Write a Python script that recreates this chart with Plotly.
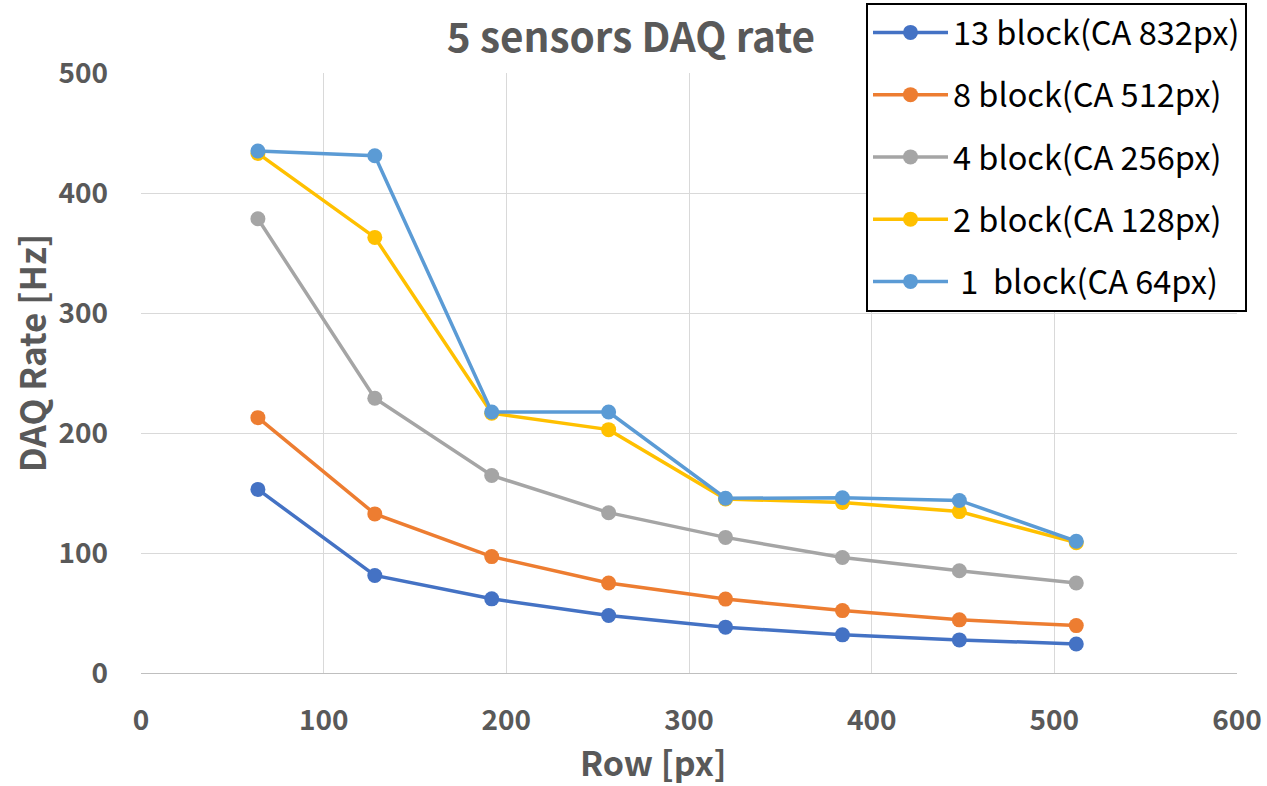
import plotly.graph_objects as go

rows = [64, 128, 192, 256, 320, 384, 448, 512]
series_names = ["13 block(CA 832px)", "8 block(CA 512px)", "4 block(CA 256px)",
                "2 block(CA 128px)", " 1  block(CA 64px)"]
rate_13 = [153, 81.3, 61.8, 47.9, 38.2, 31.8, 27.6, 24.2]
rate_8 = [212.8, 132.6, 97, 75, 61.6, 52, 44.3, 39.5]
rate_4 = [378.5, 229, 164.6, 133.6, 113, 96.3, 85.2, 75]
rate_2 = [433, 363, 216.5, 202.8, 145, 142, 134.5, 108.6]
rate_1 = [435, 431, 217.5, 217.5, 145.6, 146, 143.8, 109.8]
colors = ["#4472C4", "#ED7D31", "#A5A5A5", "#FFC000", "#5B9BD5"]
x_title = "Row [px]"
y_title = "DAQ Rate [Hz]"

font_fam = "Noto Sans CJK JP, Noto Sans, sans-serif"
fig = go.Figure()
for i, (name, vals) in enumerate(zip(series_names, [rate_13, rate_8, rate_4, rate_2, rate_1])):
    fig.add_trace(go.Scatter(
        x=rows, y=vals, name=name, mode="lines+markers",
        line=dict(color=colors[i], width=3.5),
        marker=dict(color=colors[i], size=15),
        legendgroup=str(i),
    ))

fig.update_layout(
    width=1267, height=786,
    margin=dict(l=141, r=30, t=73, b=113, autoexpand=False),
    paper_bgcolor="white", plot_bgcolor="white",
    title=dict(text="<b>5 sensors DAQ rate</b>", x=0.498, xanchor="center", y=0.952, yanchor="middle",
               font=dict(family=font_fam, size=40.5, color="#595959")),
    xaxis=dict(range=[0, 600], dtick=100, showgrid=True, gridcolor="#D9D9D9", gridwidth=1.3,
               showline=True, linecolor="#BFBFBF", linewidth=1.3, zeroline=False,
               tickfont=dict(family=font_fam, size=28, color="#595959", weight="bold"), ticks="",
               ticklabelstandoff=22),
    yaxis=dict(range=[0, 500], dtick=100, showgrid=True, gridcolor="#D9D9D9", gridwidth=1.3,
               zeroline=False, showline=False,
               tickfont=dict(family=font_fam, size=28, color="#595959", weight="bold"), ticks="",
               ticklabelstandoff=32),
    legend=dict(x=0.6615, y=1.117, xanchor="left", yanchor="top",
                bgcolor="white", bordercolor="black", borderwidth=2,
                font=dict(family=font_fam, size=32.5, color="black"),
                tracegroupgap=17, itemwidth=75),
    showlegend=True,
    annotations=[
        dict(text="<b>" + x_title + "</b>", xref="paper", yref="paper", x=0.468, y=-0.148,
             xanchor="center", yanchor="middle", showarrow=False,
             font=dict(family=font_fam, size=34, color="#595959")),
        dict(text="<b>" + y_title + "</b>", xref="paper", yref="paper", x=-0.1013, y=0.533,
             xanchor="center", yanchor="middle", showarrow=False, textangle=-90,
             font=dict(family=font_fam, size=35, color="#595959")),
    ],
)
fig.write_html("out.html")
